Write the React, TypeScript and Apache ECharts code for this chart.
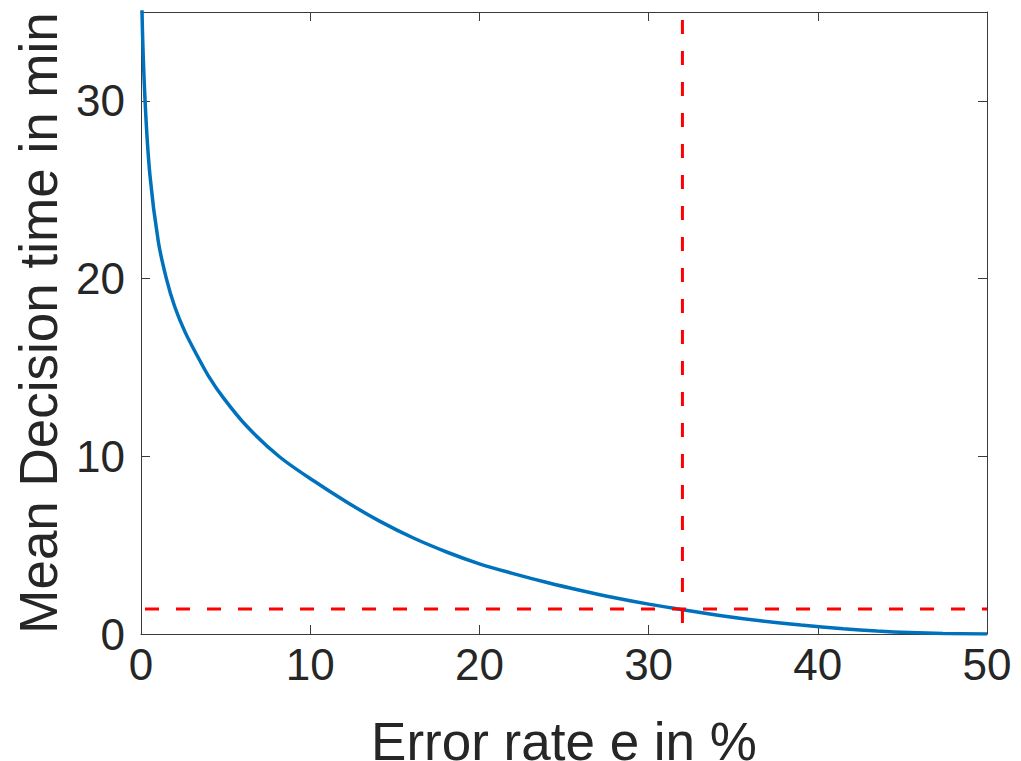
import React, { useEffect, useRef } from "react";
import * as echarts from "echarts";

// Error rate e in % (x) and mean decision time in min (y)
const errorRate = [
  0.04, 0.06, 0.24, 0.53, 1.02, 1.5, 2.0, 2.6, 3.3, 4.0, 4.86, 6.24, 8.2,
  10.2, 12.2, 14.1, 16.1, 18.1, 20.0, 22.0, 24.0, 26.0, 28.0, 30.0, 32.0, 34.2,
  36.6, 39.0, 41.5, 43.5, 45.4, 47.4, 50.0,
];
const decisionTime = [
  38, 35, 30, 25.8, 22.1, 20.0, 18.4, 17.0, 15.7, 14.5, 13.3, 11.7, 9.96,
  8.62, 7.4, 6.35, 5.4, 4.6, 3.95, 3.4, 2.9, 2.45, 2.04, 1.68, 1.37, 1.04, 0.74,
  0.5, 0.3, 0.17, 0.08, 0.025, 0.0,
];

const xTicks = [0, 10, 20, 30, 40, 50];
const yTicks = [0, 10, 20, 30];
const thresholdErrorRate = 32;
const thresholdTime = 1.4;

const FONT = '"Liberation Sans", Arial, Helvetica, sans-serif';
const AXIS_COLOR = "#3a3a3a";
const TEXT_COLOR = "#262626";

export default function App() {
  const ref = useRef<HTMLDivElement>(null);

  useEffect(() => {
    if (!ref.current) return;
    const chart = echarts.init(ref.current, undefined, { renderer: "svg" });

    const axisLine = { show: true, onZero: false, lineStyle: { color: AXIS_COLOR, width: 1 } };
    const axisTick = { show: true, inside: true, length: 9, lineStyle: { color: AXIS_COLOR, width: 1 } };

    chart.setOption({
      animation: false,
      backgroundColor: "#ffffff",
      textStyle: { fontFamily: FONT },
      grid: {
        left: 141,
        right: 34,
        top: 12,
        bottom: 127,
        containLabel: false,
        outerBoundsMode: "none",
      },
      xAxis: [
        {
          type: "value",
          position: "bottom",
          min: 0,
          max: 50,
          interval: 10,
          name: "Error rate e in %",
          nameLocation: "middle",
          nameGap: 81,
          nameTextStyle: { fontSize: 53, color: TEXT_COLOR, fontFamily: FONT },
          axisLine,
          axisTick: { ...axisTick, customValues: xTicks },
          axisLabel: { fontSize: 44, margin: 8, color: TEXT_COLOR, fontFamily: FONT, customValues: xTicks },
          splitLine: { show: false },
        },
        {
          type: "value",
          position: "top",
          min: 0,
          max: 50,
          interval: 10,
          axisLine,
          axisTick: { ...axisTick, customValues: xTicks },
          axisLabel: { show: false },
          splitLine: { show: false },
        },
      ],
      yAxis: [
        {
          type: "value",
          position: "left",
          min: 0,
          max: 35,
          interval: 10,
          name: "Mean Decision time in min",
          nameLocation: "middle",
          nameGap: 75,
          nameRotate: 90,
          nameTextStyle: { fontSize: 53, color: TEXT_COLOR, fontFamily: FONT },
          axisLine,
          axisTick: { ...axisTick, customValues: yTicks },
          axisLabel: { fontSize: 44, margin: 16, color: TEXT_COLOR, fontFamily: FONT, customValues: yTicks },
          splitLine: { show: false },
        },
        {
          type: "value",
          position: "right",
          min: 0,
          max: 35,
          interval: 10,
          axisLine,
          axisTick: { ...axisTick, customValues: yTicks },
          axisLabel: { show: false },
          splitLine: { show: false },
        },
      ],
      series: [
        {
          type: "line",
          xAxisIndex: 0,
          yAxisIndex: 0,
          data: errorRate.map((e, i) => [e, decisionTime[i]]),
          showSymbol: false,
          symbol: "none",
          smooth: 0.3,
          clip: true,
          lineStyle: { color: "#0072BD", width: 3.5 },
          z: 2,
        },
        {
          type: "line",
          xAxisIndex: 0,
          yAxisIndex: 0,
          data: [
            [0, thresholdTime],
            [50, thresholdTime],
          ],
          symbol: "none",
          lineStyle: { color: "#FF0000", width: 3, type: [14, 17], dashOffset: -4 },
          z: 3,
        },
        {
          type: "line",
          xAxisIndex: 0,
          yAxisIndex: 0,
          data: [
            [thresholdErrorRate, 35],
            [thresholdErrorRate, 0],
          ],
          symbol: "none",
          lineStyle: { color: "#FF0000", width: 3, type: [14, 17], dashOffset: -8 },
          z: 3,
        },
      ],
    });

    return () => chart.dispose();
  }, []);

  return (
    <div
      ref={ref}
      style={{ position: "fixed", left: 0, top: 0, width: 1021, height: 761, background: "#fff" }}
    />
  );
}
